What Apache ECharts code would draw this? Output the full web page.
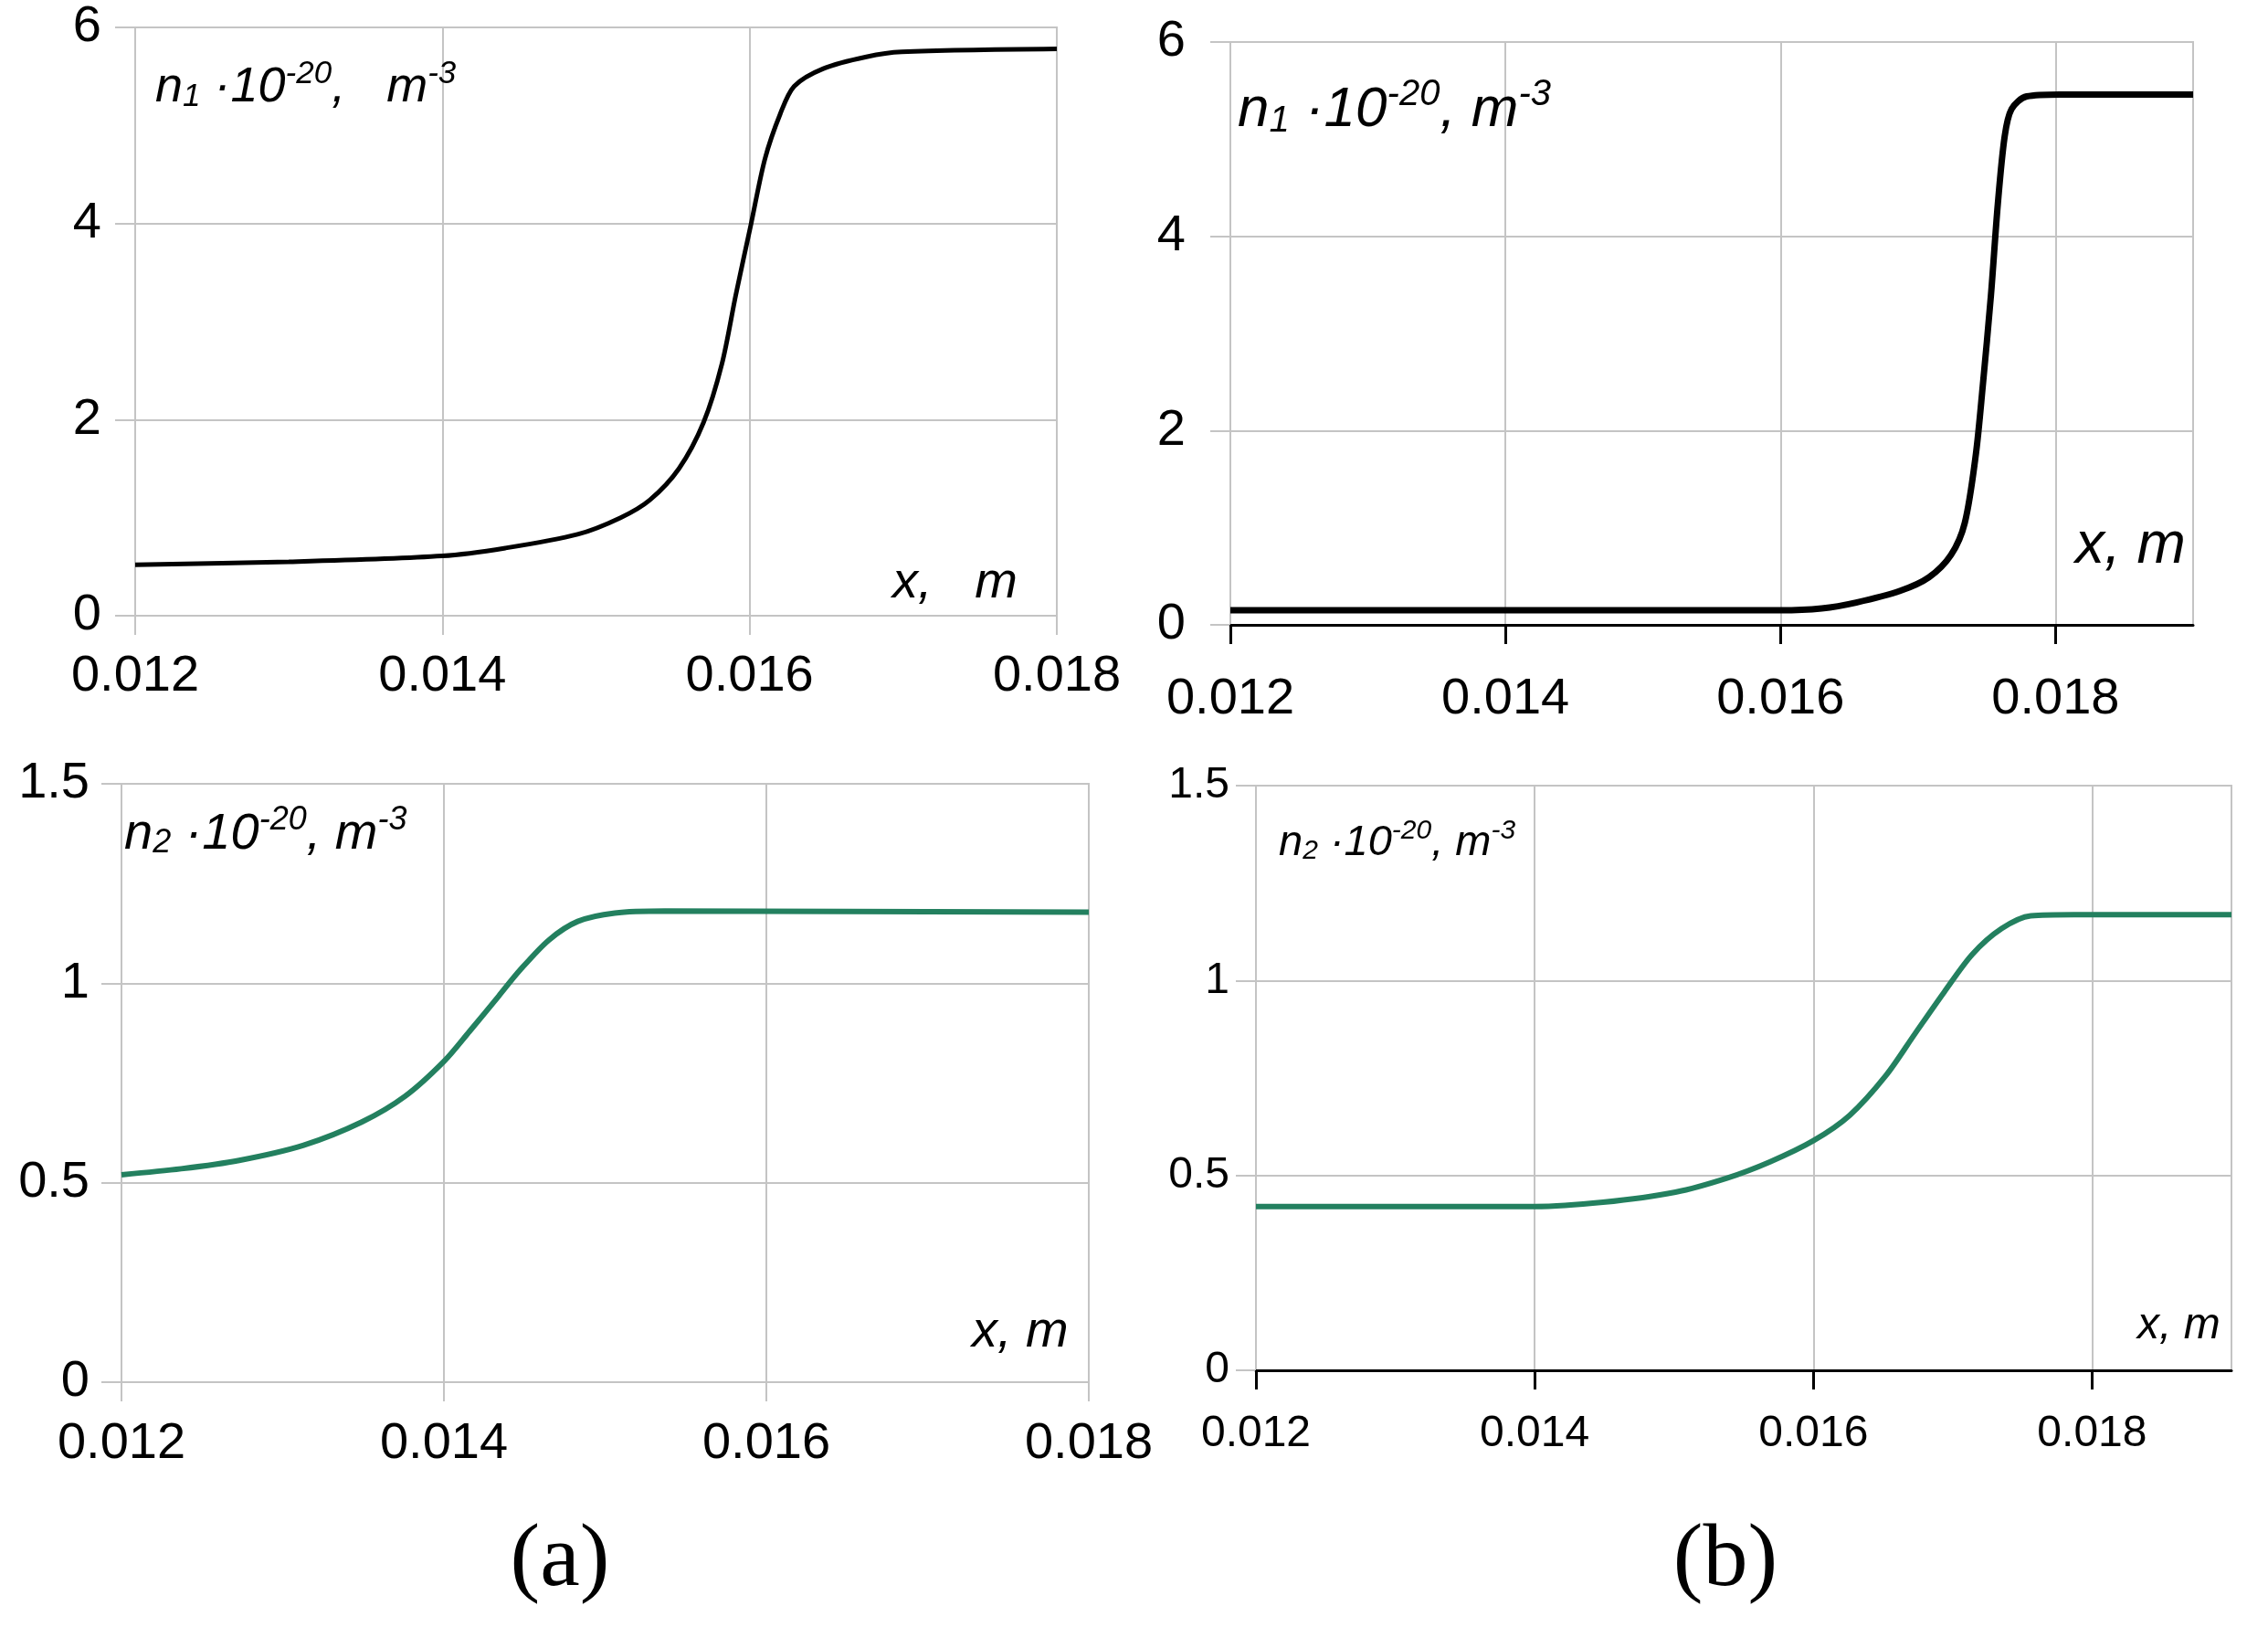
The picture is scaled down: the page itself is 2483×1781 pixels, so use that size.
<!DOCTYPE html>
<html>
<head>
<meta charset="utf-8">
<script src="https://cdn.jsdelivr.net/npm/echarts@6/dist/echarts.min.js"></script>
<style>
  html, body { margin: 0; padding: 0; background: #fff; }
  #main { width: 2483px; height: 1781px; }
</style>
</head>
<body>
<div id="main"></div>
<script>
// tick values
var xTicks = [0.012, 0.014, 0.016, 0.018];
var yTicksN1 = [0, 2, 4, 6];
var yTicksN2 = [0, 0.5, 1, 1.5];

// (a) n1
var n1aX = [0.012, 0.013, 0.014, 0.01441, 0.01488, 0.01516, 0.01535, 0.01554, 0.0157, 0.01582, 0.01591, 0.01601, 0.0161, 0.0162, 0.01629, 0.01648, 0.01676, 0.01699, 0.018];
var n1aY = [0.52, 0.55, 0.61, 0.69, 0.83, 1.0, 1.18, 1.5, 1.97, 2.57, 3.27, 4.0, 4.66, 5.12, 5.4, 5.58, 5.7, 5.75, 5.78];

// (b) n1
var n1bX = [0.012, 0.016, 0.0163, 0.01655, 0.01687, 0.01708, 0.01724, 0.01734, 0.01742, 0.01747, 0.01753, 0.01758, 0.01763, 0.01768, 0.01779, 0.01803, 0.019];
var n1bY = [0.15, 0.15, 0.17, 0.23, 0.35, 0.49, 0.72, 1.05, 1.75, 2.45, 3.39, 4.33, 5.03, 5.31, 5.44, 5.46, 5.46];

// (a) n2
var n2aX = [0.012, 0.01237, 0.01273, 0.01313, 0.01349, 0.01376, 0.014, 0.01416, 0.01434, 0.01447, 0.01465, 0.01483, 0.01506, 0.01537, 0.018];
var n2aY = [0.52, 0.535, 0.556, 0.594, 0.652, 0.717, 0.804, 0.88, 0.968, 1.032, 1.108, 1.155, 1.176, 1.181, 1.178];

// (b) n2
var n2bX = [0.012, 0.014, 0.01449, 0.01501, 0.01538, 0.01569, 0.016, 0.01626, 0.01652, 0.01673, 0.01694, 0.01714, 0.01735, 0.01756, 0.01787, 0.019];
var n2bY = [0.42, 0.42, 0.431, 0.457, 0.493, 0.535, 0.589, 0.654, 0.756, 0.864, 0.971, 1.067, 1.133, 1.166, 1.169, 1.169];

var FONT = 'Liberation Sans';
var GRID_GRAY = '#c4c4c4';
var TEAL = '#23805f';

function pairs(xs, ys) {
    return xs.map(function (x, i) { return [x, ys[i]]; });
}

function fmtX(v) { return v.toFixed(3); }
function fmtY(v) { return String(Math.round(v * 10) / 10); }

function xAxisOf(gi, max, dark, size, margin) {
    return {
        gridIndex: gi,
        type: 'value',
        min: 0.012,
        max: max,
        interval: 0.002,
        axisLine: { show: true, onZero: false, lineStyle: { color: dark ? '#000' : GRID_GRAY, width: dark ? 3 : 2 } },
        axisTick: { show: true, inside: false, length: 21, customValues: xTicks,
            lineStyle: { color: dark ? '#000' : GRID_GRAY, width: dark ? 3 : 2 } },
        axisLabel: { customValues: xTicks, formatter: fmtX, fontFamily: FONT, fontSize: size, color: '#000', margin: margin },
        splitLine: { show: true, lineStyle: { color: GRID_GRAY, width: 2 } }
    };
}

function yAxisOf(gi, max, interval, size, margin) {
    return {
        gridIndex: gi,
        type: 'value',
        min: 0,
        max: max,
        interval: interval,
        axisLine: { show: true, lineStyle: { color: GRID_GRAY, width: 2 } },
        axisTick: { show: true, length: 22, lineStyle: { color: GRID_GRAY, width: 2 } },
        axisLabel: { formatter: fmtY, fontFamily: FONT, fontSize: size, color: '#000', margin: margin },
        splitLine: { show: true, lineStyle: { color: GRID_GRAY, width: 2 } }
    };
}

function lineOf(i, xs, ys, color, w) {
    return {
        type: 'line',
        xAxisIndex: i,
        yAxisIndex: i,
        data: pairs(xs, ys),
        showSymbol: false,
        smooth: 0.3,
        lineStyle: { color: color, width: w },
        z: 5
    };
}

function densLabel(idx, gap, size, left, top) {
    var sub = Math.round(size * 0.64);
    return {
        type: 'text',
        left: left,
        top: top,
        z: 10,
        style: {
            text: '{a|n}{s|' + idx + '}{a| ·10}{p|-20}{a|,' + gap + 'm}{p|-3}',
            fill: '#000',
            rich: {
                a: { fontFamily: FONT, fontStyle: 'italic', fontSize: size, lineHeight: size * 1.2, fill: '#000' },
                s: { fontFamily: FONT, fontStyle: 'italic', fontSize: sub, lineHeight: sub, verticalAlign: 'bottom', fill: '#000', padding: [0, 0, Math.round(size * 0.1), 0] },
                p: { fontFamily: FONT, fontStyle: 'italic', fontSize: sub, lineHeight: sub, verticalAlign: 'top', fill: '#000' }
            }
        }
    };
}

function xmLabel(txt, size, left, top) {
    return {
        type: 'text', left: left, top: top, z: 10,
        style: { text: txt, fontFamily: FONT, fontStyle: 'italic', fontSize: size, fill: '#000' }
    };
}

function panelLabel(txt, cx, top) {
    return {
        type: 'text', x: cx, y: top, z: 10,
        style: { text: txt, fontFamily: 'Liberation Serif', fontSize: 98, fill: '#000', align: 'center' }
    };
}

var myChart = echarts.init(document.getElementById('main'));

var option = {
    backgroundColor: '#fff',
    animation: false,
    grid: [
        { left: 148, top: 30, width: 1009, height: 644, show: true, borderColor: GRID_GRAY, borderWidth: 2 },
        { left: 1347, top: 46, width: 1054, height: 638, show: true, borderColor: GRID_GRAY, borderWidth: 2 },
        { left: 133, top: 858, width: 1059, height: 655, show: true, borderColor: GRID_GRAY, borderWidth: 2 },
        { left: 1375, top: 860, width: 1068, height: 640, show: true, borderColor: GRID_GRAY, borderWidth: 2 }
    ],
    xAxis: [
        xAxisOf(0, 0.018, false, 56, 39),
        xAxisOf(1, 0.019, true, 56, 54),
        xAxisOf(2, 0.018, false, 56, 40),
        xAxisOf(3, 0.019, true, 48, 46)
    ],
    yAxis: [
        yAxisOf(0, 6, 2, 56, 37),
        yAxisOf(1, 6, 2, 56, 49),
        yAxisOf(2, 1.5, 0.5, 56, 35),
        yAxisOf(3, 1.5, 0.5, 48, 29)
    ],
    series: [
        lineOf(0, n1aX, n1aY, '#000', 5),
        lineOf(1, n1bX, n1bY, '#000', 7),
        lineOf(2, n2aX, n2aY, TEAL, 6),
        lineOf(3, n2bX, n2bY, TEAL, 6)
    ],
    graphic: [
        densLabel(1, '   ', 54, 170, 64),
        densLabel(1, ' ', 62, 1355, 84),
        densLabel(2, ' ', 56, 136, 880),
        densLabel(2, ' ', 47, 1400, 895),
        xmLabel('x,   m', 56, 977, 610),
        xmLabel('x, m', 64, 2272, 566),
        xmLabel('x, m', 56, 1064, 1430),
        xmLabel('x, m', 48, 2340, 1428),
        panelLabel('(a)', 613, 1660),
        panelLabel('(b)', 1889, 1660)
    ]
};

myChart.setOption(option);
</script>
</body>
</html>
